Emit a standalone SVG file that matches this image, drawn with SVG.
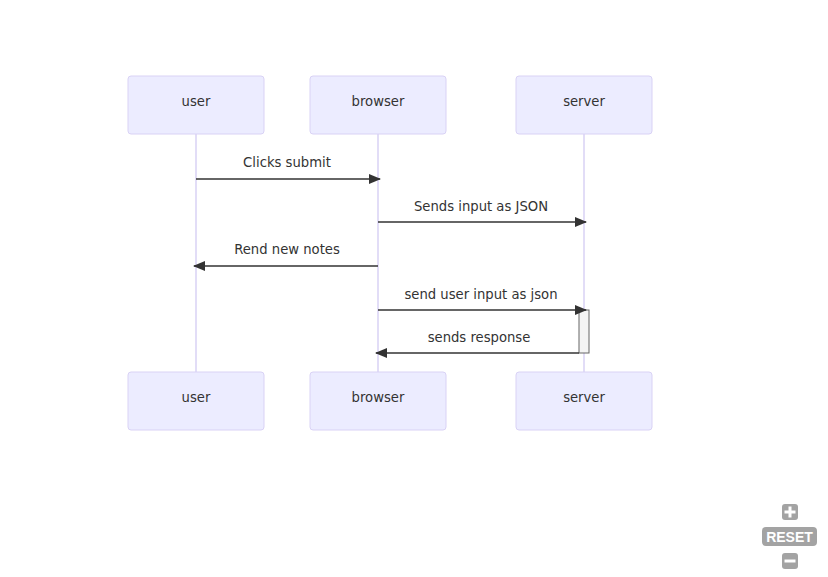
<svg xmlns="http://www.w3.org/2000/svg" width="828" height="577" viewBox="0 0 828 577">
<style>
.actor{fill:#ECECFF;stroke:#d9d2f5;stroke-width:1}
.life{stroke:#d9d2f5;stroke-width:1.5}
.t{font-family:"DejaVu Sans",sans-serif;font-size:13.2px;fill:#333;text-anchor:middle}
.msg{stroke:#333;stroke-width:1.5;fill:none}
.ctl{fill:#a3a3a3}
</style>
<defs>
<marker id="ah" viewBox="0 0 12 10" refX="11" refY="5" markerWidth="12" markerHeight="10" markerUnits="userSpaceOnUse" orient="auto">
<path d="M0,0 L12,5 L0,10 z" fill="#333"/>
</marker>
</defs>
<rect width="828" height="577" fill="#fff"/>
<g id="lifelines">
<line class="life" x1="196" y1="134" x2="196" y2="372"/>
<line class="life" x1="378" y1="134" x2="378" y2="372"/>
<line class="life" x1="584" y1="134" x2="584" y2="372"/>
</g>
<g id="actor-user-top"><rect class="actor" x="128" y="76" width="136" height="58" rx="3"/><text class="t" x="196" y="106">user</text></g>
<g id="actor-browser-top"><rect class="actor" x="310" y="76" width="136" height="58" rx="3"/><text class="t" x="378" y="106">browser</text></g>
<g id="actor-server-top"><rect class="actor" x="516" y="76" width="136" height="58" rx="3"/><text class="t" x="584" y="106">server</text></g>
<g id="actor-user-bottom"><rect class="actor" x="128" y="372" width="136" height="58" rx="3"/><text class="t" x="196" y="402">user</text></g>
<g id="actor-browser-bottom"><rect class="actor" x="310" y="372" width="136" height="58" rx="3"/><text class="t" x="378" y="402">browser</text></g>
<g id="actor-server-bottom"><rect class="actor" x="516" y="372" width="136" height="58" rx="3"/><text class="t" x="584" y="402">server</text></g>
<g id="activation"><rect x="579" y="310" width="10" height="43" fill="#f4f4f4" stroke="#666" stroke-width="1"/></g>
<g id="connectors">
<line class="msg" x1="196" y1="179" x2="380" y2="179" marker-end="url(#ah)"/>
<text class="t" x="287" y="167">Clicks submit</text>
<line class="msg" x1="378" y1="222" x2="586" y2="222" marker-end="url(#ah)"/>
<text class="t" x="481" y="211">Sends input as JSON</text>
<line class="msg" x1="378" y1="266" x2="194" y2="266" marker-end="url(#ah)"/>
<text class="t" x="287" y="254">Rend new notes</text>
<line class="msg" x1="378" y1="310" x2="586" y2="310" marker-end="url(#ah)"/>
<text class="t" x="481" y="299">send user input as json</text>
<line class="msg" x1="579" y1="353" x2="376" y2="353" marker-end="url(#ah)"/>
<text class="t" x="479" y="342">sends response</text>
</g>
<g id="zoom-controls">
<rect class="ctl" x="782" y="504" width="16" height="16" rx="3"/>
<rect x="784.5" y="510.5" width="11" height="3" fill="#fff"/>
<rect x="788.5" y="506.5" width="3" height="11" fill="#fff"/>
<rect class="ctl" x="762" y="527" width="55" height="19" rx="4"/>
<text x="789.5" y="542" font-family="Liberation Sans,sans-serif" font-size="14" font-weight="bold" fill="#fff" text-anchor="middle">RESET</text>
<rect class="ctl" x="782" y="553" width="16" height="16" rx="3"/>
<rect x="784.5" y="559.5" width="11" height="3" fill="#fff"/>
</g>
</svg>
